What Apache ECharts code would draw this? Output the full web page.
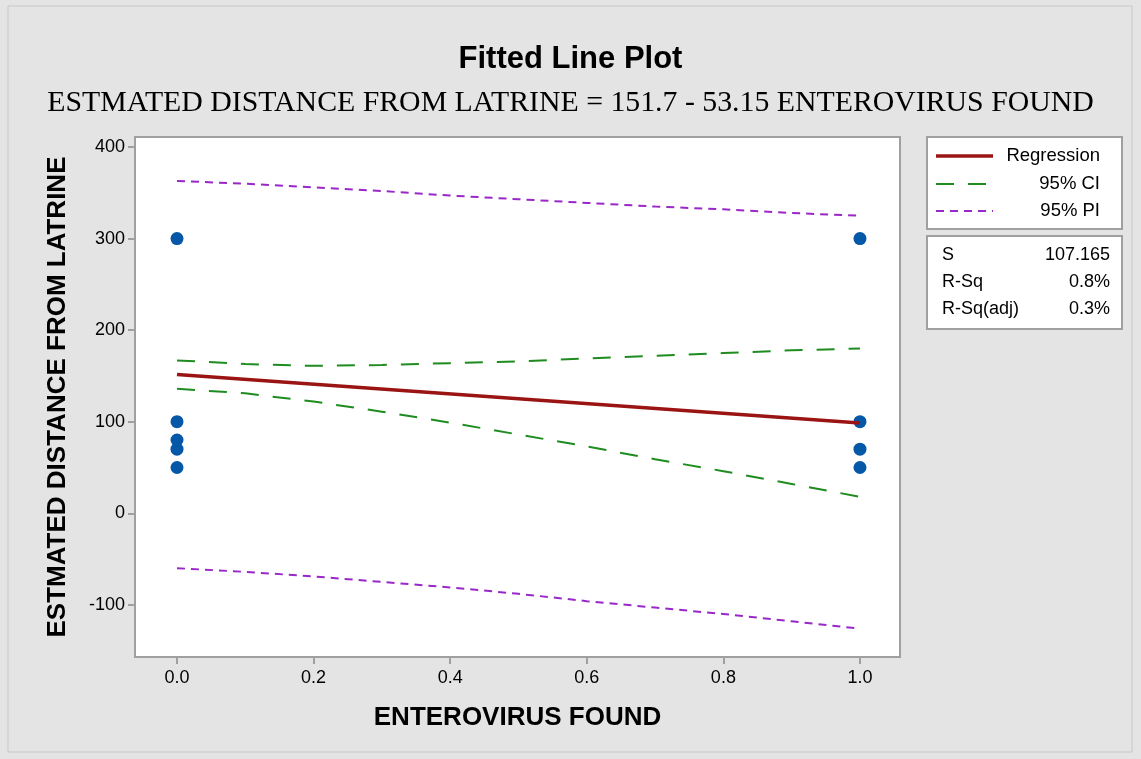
<!DOCTYPE html>
<html>
<head>
<meta charset="utf-8">
<script src="https://cdn.jsdelivr.net/npm/echarts@6/dist/echarts.min.js"></script>
<style>
  html, body { margin: 0; padding: 0; background: #fff; }
  #main { width: 1141px; height: 759px; }
</style>
</head>
<body>
<div id="main"></div>
<script>
// observed points
var pointsX0 = [300, 100, 80, 70, 50];
var pointsX1 = [300, 100, 70, 50];
// fitted line
var fitX = [0, 1];
var fitY = [151.7, 98.55];
// bands, read at steps of 0.1
var bandX = [0, 0.1, 0.2, 0.3, 0.4, 0.5, 0.6, 0.7, 0.8, 0.9, 1.0];
var ciUpper = [167, 163, 161, 162, 164, 166, 169, 172, 175, 178, 180];
var ciLower = [136, 131, 122, 111, 99, 86, 73, 59, 46, 32, 18];
var piUpper = [363, 360, 356, 352, 347, 343, 339, 335, 332, 328, 325];
var piLower = [-60, -64, -69, -75, -81, -88, -96, -103, -110, -118, -126];
// ticks
var xTicks = [0, 0.2, 0.4, 0.6, 0.8, 1.0];
var yTicks = [-100, 0, 100, 200, 300, 400];

var pair = function (xs, ys) {
    return xs.map(function (x, i) { return [x, ys[i]]; });
};
var scatterData = pointsX0.map(function (v) { return [0, v]; })
    .concat(pointsX1.map(function (v) { return [1, v]; }));

var font = "'Liberation Sans', Arial, sans-serif";
var chart = echarts.init(document.getElementById("main"));

var legendText = function (txt, y) {
    return { type: "text", right: 41, top: y, style: { text: txt, font: "18.5px " + font, fill: "#000" } };
};
var axisLineStyle = { show: true, onZero: false, lineStyle: { color: "#a0a0a0", width: 2 } };

chart.setOption({
    backgroundColor: "#e4e4e4",
    animation: false,
    title: [
        { text: "Fitted Line Plot", left: "center", top: 39,
          textStyle: { fontFamily: font, fontWeight: "bold", fontSize: 31, color: "#000" } },
        { text: "ESTMATED DISTANCE FROM LATRINE = 151.7 - 53.15 ENTEROVIRUS FOUND", left: "center", top: 83,
          textStyle: { fontFamily: "'Liberation Serif', 'Times New Roman', serif", fontWeight: "normal", fontSize: 29.8, color: "#000" } }
    ],
    grid: { left: 135, right: 241, top: 137, bottom: 102, show: true, backgroundColor: "#fff",
            borderColor: "#a0a0a0", borderWidth: 2 },
    xAxis: {
        type: "value", min: -0.0615, max: 1.0586,
        name: "ENTEROVIRUS FOUND", nameLocation: "middle", nameGap: 48,
        nameTextStyle: { fontFamily: font, fontWeight: "bold", fontSize: 26, color: "#000" },
        axisLine: axisLineStyle,
        splitLine: { show: false },
        axisTick: { show: true, length: 7, customValues: xTicks, lineStyle: { color: "#a0a0a0", width: 2 } },
        axisLabel: { customValues: xTicks, margin: 12, fontFamily: font, fontSize: 18, color: "#000",
                     formatter: function (v) { return v.toFixed(1); } }
    },
    yAxis: {
        type: "value", min: -157, max: 411,
        name: "ESTMATED DISTANCE FROM LATRINE", nameLocation: "middle", nameGap: 64, nameRotate: 90,
        nameTextStyle: { fontFamily: font, fontWeight: "bold", fontSize: 26, color: "#000" },
        axisLine: axisLineStyle,
        splitLine: { show: false },
        axisTick: { show: true, length: 7, customValues: yTicks, lineStyle: { color: "#a0a0a0", width: 2 } },
        axisLabel: { customValues: yTicks, margin: 10, fontFamily: font, fontSize: 18, color: "#000" }
    },
    series: [
        { type: "line", data: pair(bandX, piUpper), symbol: "none",
          lineStyle: { color: "#9a27c8", width: 2, type: [8, 6] } },
        { type: "line", data: pair(bandX, piLower), symbol: "none",
          lineStyle: { color: "#9a27c8", width: 2, type: [8, 6] } },
        { type: "line", data: pair(bandX, ciUpper), symbol: "none",
          lineStyle: { color: "#1e8c1e", width: 2, type: [18, 14] } },
        { type: "line", data: pair(bandX, ciLower), symbol: "none",
          lineStyle: { color: "#1e8c1e", width: 2, type: [18, 14] } },
        { type: "line", data: pair(fitX, fitY), symbol: "none",
          lineStyle: { color: "#9b1414", width: 3.5 } },
        { type: "scatter", data: scatterData, symbolSize: 13,
          itemStyle: { color: "#0557a8", opacity: 1 } }
    ],
    graphic: [
        { type: "rect", shape: { x: 8, y: 6, width: 1124, height: 746 },
          style: { fill: "none", stroke: "#c8c8c8", lineWidth: 1 }, silent: true },
        { type: "rect", shape: { x: 927, y: 137, width: 195, height: 92 },
          style: { fill: "#fff", stroke: "#a0a0a0", lineWidth: 2 } },
        { type: "rect", shape: { x: 927, y: 236, width: 195, height: 93 },
          style: { fill: "#fff", stroke: "#a0a0a0", lineWidth: 2 } },
        { type: "line", shape: { x1: 936, y1: 156, x2: 993, y2: 156 },
          style: { stroke: "#9b1414", lineWidth: 3.5 } },
        { type: "line", shape: { x1: 936, y1: 184, x2: 993, y2: 184 },
          style: { stroke: "#1e8c1e", lineWidth: 2, lineDash: [18, 14] } },
        { type: "line", shape: { x1: 936, y1: 211, x2: 993, y2: 211 },
          style: { stroke: "#9a27c8", lineWidth: 2, lineDash: [8, 6] } },
        legendText("Regression", 146),
        legendText("95% CI", 174),
        legendText("95% PI", 201),
        { type: "text", left: 942, top: 246, style: { text: "S", font: "18px " + font, fill: "#000" } },
        { type: "text", left: 942, top: 273, style: { text: "R-Sq", font: "18px " + font, fill: "#000" } },
        { type: "text", left: 942, top: 300, style: { text: "R-Sq(adj)", font: "18px " + font, fill: "#000" } },
        { type: "text", right: 31, top: 246, style: { text: "107.165", font: "18px " + font, fill: "#000" } },
        { type: "text", right: 31, top: 273, style: { text: "0.8%", font: "18px " + font, fill: "#000" } },
        { type: "text", right: 31, top: 300, style: { text: "0.3%", font: "18px " + font, fill: "#000" } }
    ]
});
</script>
</body>
</html>
